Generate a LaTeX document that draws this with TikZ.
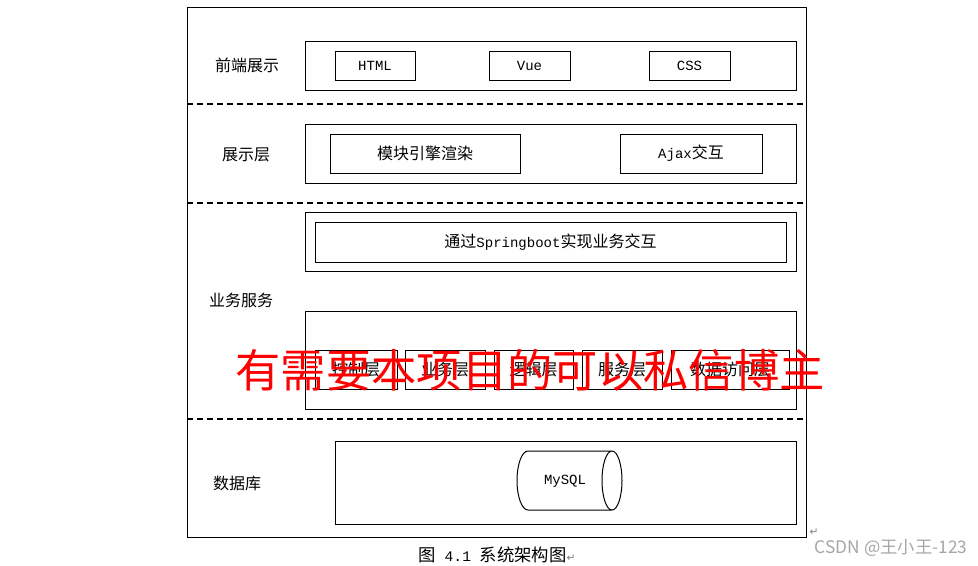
\documentclass[tikz,border=0pt]{standalone}
\usepackage{fontspec}
\setmainfont{Noto Sans CJK SC}
\newfontfamily\mono{Liberation Mono}
\newfontfamily\symfont{DejaVu Sans}
\begin{document}
\begin{tikzpicture}[x=0.75pt,y=-0.75pt,
            box/.style={draw,line width=0.75pt,inner sep=0pt,minimum height=29.25pt,
                font=\fontsize{12}{14}\selectfont},
            layer/.style={font=\fontsize{12}{14}\selectfont},
            sep/.style={line width=1pt,dash pattern=on 4.5pt off 3pt}
            ]
            \useasboundingbox (0,0) rectangle (978,565);
            
            % The frame and the dashed separators
            \draw[line width=0.75pt] (187,7) rectangle (806,537);
            \draw[sep] (187,104) -- (806,104);
            \draw[sep] (187,203) -- (806,203);
            \draw[sep] (187,419) -- (806,419);
            
            % Front end
            \node[layer] (fe) at (247,65) {前端展示};
            \draw[line width=0.75pt] (305,41) rectangle (796,90);
            \node[box,minimum width=60pt,minimum height=21.75pt] (html) at (375,65.5) {\mono\fontsize{10.5}{12}\selectfont HTML};
            \node[box,minimum width=60.75pt,minimum height=21.75pt] (vue) at (529.5,65.5) {\mono\fontsize{10.5}{12}\selectfont Vue};
            \node[box,minimum width=60.75pt,minimum height=21.75pt] (css) at (689.5,65.5) {\mono\fontsize{10.5}{12}\selectfont CSS};
            
            % Presentation layer
            \node[layer] (view) at (246,155) {展示层};
            \draw[line width=0.75pt] (305,124) rectangle (796,183);
            \node[box,minimum width=142.5pt] (render) at (425,153.5) {模块引擎渲染};
            \node[box,minimum width=106.5pt] (ajax) at (691,153.5) {{\mono\fontsize{10.5}{12}\selectfont Ajax}交互};
            
            % Business services
            \node[layer] (biz) at (241,300) {业务服务};
            \draw[line width=0.75pt] (305,212) rectangle (796,271);
            \node[box,minimum width=353.25pt,minimum height=30pt] (boot) at (550.5,242) {通过{\mono\fontsize{10.5}{12}\selectfont Springboot}实现业务交互};
            \draw[line width=0.75pt] (305,311) rectangle (796,409);
            \node[box,minimum width=61.5pt] (ctrl) at (356,369.5) {控制层};
            \node[box,minimum width=60pt] (logic) at (445,369.5) {业务层};
            \node[box,minimum width=59.25pt] (rule) at (533.5,369.5) {逻辑层};
            \node[box,minimum width=60pt] (svc) at (622,369.5) {服务层};
            \node[box,minimum width=88.5pt] (dao) at (730,369.5) {数据访问层};
            
            % Database
            \node[layer] (db) at (237,483) {数据库};
            \draw[line width=0.75pt] (335,441) rectangle (796,524);
            % the drum
            \draw[line width=0.75pt] (528,451) -- (612,451)
                arc[start angle=-90,end angle=270,x radius=10,y radius=29.5]
                (612,510) -- (528,510)
                arc[start angle=90,end angle=270,x radius=11,y radius=29.5];
            \node (mysql) at (565,481) {\mono\fontsize{10.5}{12}\selectfont MySQL};
            
            % The labels
            \node[font=\fontsize{13}{15}\selectfont] (caption) at (497,555) {图{\mono\fontsize{11}{13}\selectfont\ 4.1\ }系统架构图{\color{gray}\symfont\fontsize{8}{9}\selectfont ↵}};
            \node[text=gray,font=\symfont\fontsize{8}{9}\selectfont] (ret) at (814,532) {↵};
            \node[text=black!35,font=\fontsize{13}{15}\selectfont] (csdn) at (891,548) {CSDN @王小王-123};
            \node[text=red,font=\fontsize{34}{36}\selectfont] (mark) at (530,370) {有需要本项目的可以私信博主};
        \end{tikzpicture}
\end{document}
